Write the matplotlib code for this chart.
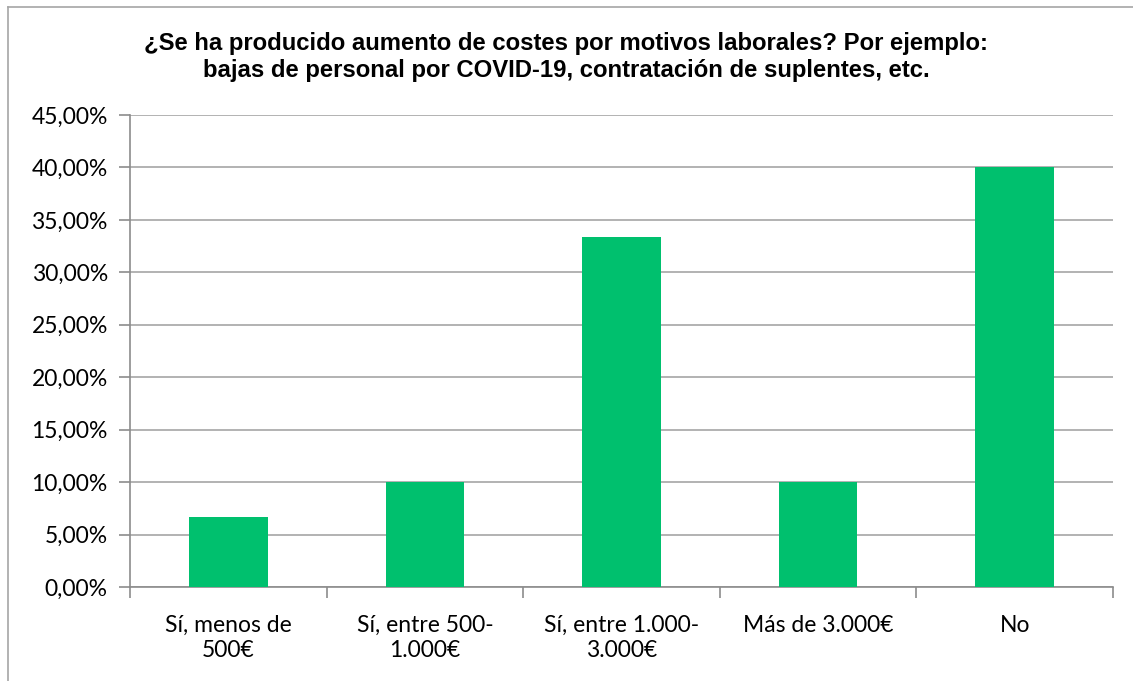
import matplotlib.pyplot as plt
from matplotlib.ticker import FuncFormatter, FixedLocator
from matplotlib.lines import Line2D

categories = ["Sí, menos de\n500€", "Sí, entre 500-\n1.000€", "Sí, entre 1.000-\n3.000€", "Más de 3.000€", "No"]
values = [6.67, 10.0, 33.33, 10.0, 40.0]
title = ("¿Se ha producido aumento de costes por motivos laborales? Por ejemplo:\n"
         "bajas de personal por COVID-19, contratación de suplentes, etc.")

fig = plt.figure(figsize=(11.33, 6.81), dpi=100)
ax = fig.add_axes([130 / 1133, 1 - 587 / 681, (1113 - 130) / 1133, (587 - 115) / 681])

x = range(len(categories))
ax.bar(x, values, width=0.4, color="#00C06E", zorder=3)

ax.set_xlim(-0.5, len(categories) - 0.5)
ax.set_ylim(0, 45)
ax.set_yticks([i * 5 for i in range(10)])
ax.yaxis.set_major_formatter(FuncFormatter(lambda v, p: f"{v:.2f}%".replace(".", ",")))
ax.grid(axis="y", color="#A6A6A6", linewidth=1.2, zorder=0)

ax.set_xticks(list(x))
ax.set_xticklabels(categories, fontsize=16.5, family="Lato", linespacing=1.25)
ax.tick_params(axis="x", length=0, pad=20)
ax.xaxis.set_minor_locator(FixedLocator([i - 0.5 for i in range(len(categories) + 1)]))
ax.tick_params(axis="x", which="minor", length=8, color="#8C8C8C", width=1.2)
ax.tick_params(axis="y", length=8, color="#8C8C8C", width=1.2, labelsize=16.5, pad=8)
for lab in ax.get_yticklabels():
    lab.set_family("Lato")

for s in ["top", "right"]:
    ax.spines[s].set_visible(False)
for s in ["left", "bottom"]:
    ax.spines[s].set_color("#8C8C8C")
    ax.spines[s].set_linewidth(1.2)

fig.text(0.5, 1 - 57 / 681, title, ha="center", va="center", fontsize=17.2,
         fontweight="bold", family="Liberation Sans", linespacing=1.2)

# outer chart border (top and left visible)
fig.add_artist(Line2D([7.5 / 1133, 1], [1 - 6.5 / 681, 1 - 6.5 / 681], color="#A6A6A6", lw=1.2))
fig.add_artist(Line2D([7.5 / 1133, 7.5 / 1133], [0, 1 - 6.5 / 681], color="#A6A6A6", lw=1.2))

fig.savefig("out.png", dpi=100)
